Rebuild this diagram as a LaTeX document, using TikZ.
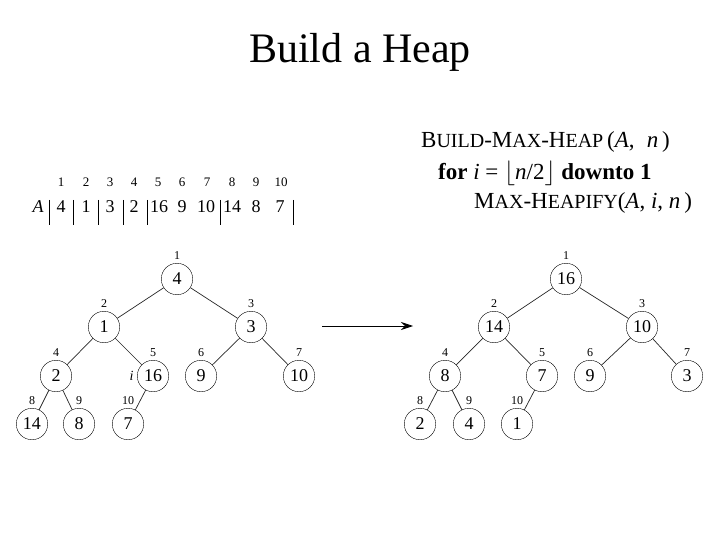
\documentclass[tikz,border=0pt]{standalone}
\usepackage{fontspec}
\setmainfont{Liberation Serif}
\usetikzlibrary{arrows.meta, positioning}
\newcommand{\smcap}[1]{{\fontsize{20}{20}\selectfont #1}}
\tikzset{
    % Heap node - plain circle with the key inside
    heap node/.style={circle, draw=black, thin, minimum size=31.5pt, inner sep=0pt, font=\fontsize{18}{18}\selectfont},
    % Array index written above each heap node
    index label/.style={font=\fontsize{12}{12}\selectfont, inner sep=1pt, label distance=2pt},
    % Tree edge between parent and child
    tree edge/.style={black!85, line width=0.7pt},
    % Array cells
    cell/.style={anchor=base, font=\fontsize{18}{18}\selectfont, inner sep=0pt},
    cell index/.style={anchor=base, font=\fontsize{13}{13}\selectfont, inner sep=0pt},
    cell bar/.style={black, line width=0.8pt},
    % Pseudocode lines
    code line/.style={anchor=base west, inner sep=0pt, font=\fontsize{23}{23}\selectfont}
}

\begin{document}
\begin{tikzpicture}[x=1pt, y=-1pt]
    \useasboundingbox (0,0) rectangle (720,540);

    % --- Title ---
    \node[anchor=base, inner sep=0pt, font=\fontsize{42}{42}\selectfont] (title) at (360,63) {Build a Heap};

    % --- Array A ---
    \node[cell, font=\fontsize{18}{18}\itshape\selectfont] (arrA) at (38,213) {A};
    \node[cell] (v1) at (61,213) {4};
    \node[cell] (v2) at (86,213) {1};
    \node[cell] (v3) at (110,213) {3};
    \node[cell] (v4) at (134,213) {2};
    \node[cell] (v5) at (159,213) {16};
    \node[cell] (v6) at (182,213) {9};
    \node[cell] (v7) at (206,213) {10};
    \node[cell] (v8) at (232,213) {14};
    \node[cell] (v9) at (256,213) {8};
    \node[cell] (v10) at (280,213) {7};
    \node[cell index] (i1) at (61,187) {1};
    \node[cell index] (i2) at (86,187) {2};
    \node[cell index] (i3) at (110,187) {3};
    \node[cell index] (i4) at (134,187) {4};
    \node[cell index] (i5) at (158,187) {5};
    \node[cell index] (i6) at (182,187) {6};
    \node[cell index] (i7) at (207,187) {7};
    \node[cell index] (i8) at (232,187) {8};
    \node[cell index] (i9) at (256,187) {9};
    \node[cell index] (i10) at (281,187) {10};
    % cell separators
    \draw[cell bar] (49,200) -- (49,225);
    \draw[cell bar] (73,200) -- (73,225);
    \draw[cell bar] (98,200) -- (98,225);
    \draw[cell bar] (123,200) -- (123,225);
    \draw[cell bar] (147,200) -- (147,225);
    \draw[cell bar] (220,200) -- (220,225);
    \draw[cell bar] (293,200) -- (293,225);

    % --- Pseudocode ---
    \node[code line] (code1) at (421,148)
        {B\smcap{UILD}-M\smcap{AX}-H\smcap{EAP}\,(\textit{A}, \;\textit{n}\,)};
    \node[code line] (code2) at (438,180)
        {\textbf{for} \textit{i} = $\lfloor$\textit{n}/2$\rfloor$ \textbf{downto 1}};
    \node[code line] (code3) at (474,208)
        {M\smcap{AX}-H\smcap{EAPIFY}(\textit{A}, \textit{i}, \textit{n}\,)};

    % --- Input tree ---
    \node[heap node, label={[index label]above:1}] (L1) at (177,279) {4};
    \node[heap node, label={[index label]above:2}] (L2) at (104,327) {1};
    \node[heap node, label={[index label]above:3}] (L3) at (251,327) {3};
    \node[heap node, label={[index label]above:4}] (L4) at (56,376) {2};
    \node[heap node, label={[index label]above:5}, label={[font=\fontsize{14}{14}\itshape\selectfont]left:i}] (L5) at (153,376) {16};
    \node[heap node, label={[index label]above:6}] (L6) at (201,376) {9};
    \node[heap node, label={[index label]above:7}] (L7) at (299,376) {10};
    \node[heap node, label={[index label]above:8}] (L8) at (32,424) {14};
    \node[heap node, label={[index label]above:9}] (L9) at (79,424) {8};
    \node[heap node, label={[index label]above:10}] (L10) at (128,424) {7};

    \draw[tree edge] (L1) -- (L2);
    \draw[tree edge] (L1) -- (L3);
    \draw[tree edge] (L2) -- (L4);
    \draw[tree edge] (L2) -- (L5);
    \draw[tree edge] (L3) -- (L6);
    \draw[tree edge] (L3) -- (L7);
    \draw[tree edge] (L4) -- (L8);
    \draw[tree edge] (L4) -- (L9);
    \draw[tree edge] (L5) -- (L10);

    % --- Arrow between the trees ---
    \coordinate (arrS) at (322,326);
    \coordinate (arrE) at (413,326);
    \draw[line width=0.8pt, -{Stealth[length=12pt, width=8pt, inset=4pt]}] (arrS) -- (arrE);

    % --- Resulting max-heap ---
    \node[heap node, label={[index label]above:1}] (R1) at (566,279) {16};
    \node[heap node, label={[index label]above:2}] (R2) at (494,327) {14};
    \node[heap node, label={[index label]above:3}] (R3) at (642,327) {10};
    \node[heap node, label={[index label]above:4}] (R4) at (445,376) {8};
    \node[heap node, label={[index label]above:5}] (R5) at (542,376) {7};
    \node[heap node, label={[index label]above:6}] (R6) at (590,376) {9};
    \node[heap node, label={[index label]above:7}] (R7) at (687,376) {3};
    \node[heap node, label={[index label]above:8}] (R8) at (420,424) {2};
    \node[heap node, label={[index label]above:9}] (R9) at (469,424) {4};
    \node[heap node, label={[index label]above:10}] (R10) at (517,424) {1};

    \draw[tree edge] (R1) -- (R2);
    \draw[tree edge] (R1) -- (R3);
    \draw[tree edge] (R2) -- (R4);
    \draw[tree edge] (R2) -- (R5);
    \draw[tree edge] (R3) -- (R6);
    \draw[tree edge] (R3) -- (R7);
    \draw[tree edge] (R4) -- (R8);
    \draw[tree edge] (R4) -- (R9);
    \draw[tree edge] (R5) -- (R10);

\end{tikzpicture}
\end{document}
